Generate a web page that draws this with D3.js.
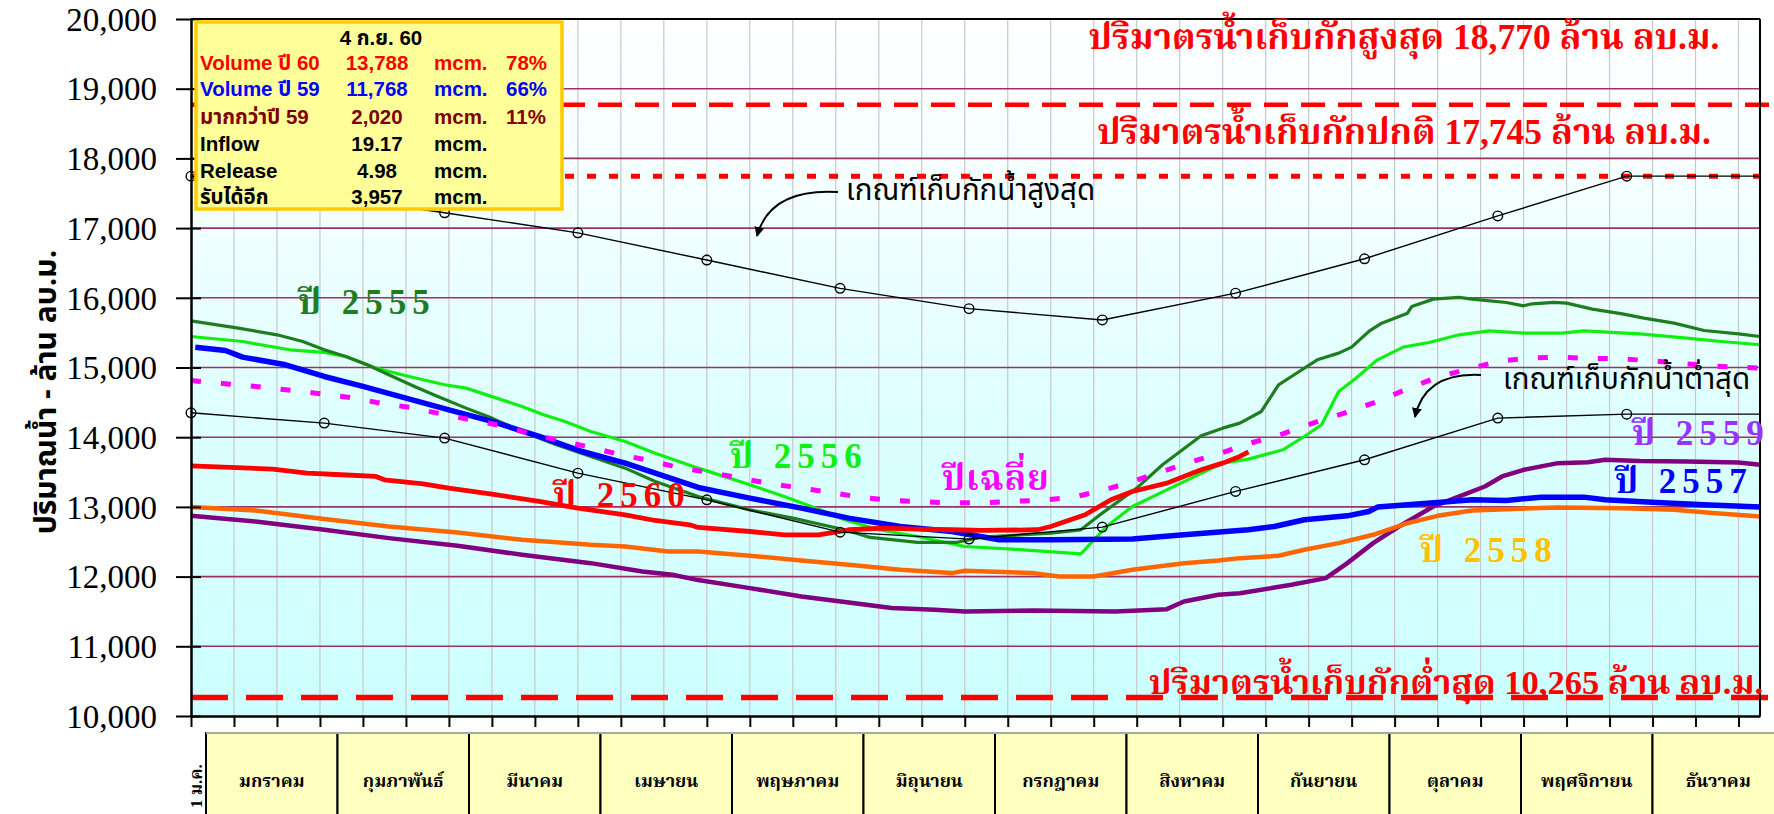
<!DOCTYPE html>
<html><head><meta charset="utf-8">
<script src="https://cdn.jsdelivr.net/npm/d3@7"></script>
<style>
html,body{margin:0;padding:0;background:#fff;overflow:hidden}
svg{display:block}
</style></head><body>
<svg id="chart" width="1774" height="814"></svg>
<script>
// ---------- data ----------
const months = ["มกราคม","กุมภาพันธ์","มีนาคม","เมษายน","พฤษภาคม","มิถุนายน","กรกฎาคม","สิงหาคม","กันยายน","ตุลาคม","พฤศจิกายน","ธันวาคม"];
const yTicks = [10000,11000,12000,13000,14000,15000,16000,17000,18000,19000,20000];

// rule curves: values on the first day of each month (day of year)
const ruleDays  = [0,31,59,90,120,151,181,212,243,273,304,334,365];
const upperRule = [17745,17470,17220,16932,16542,16136,15844,15682,16067,16560,17175,17745,17745];
const lowerRule = [14350,14202,13987,13484,13101,12638,12538,12710,13222,13676,14274,14331,14331];

// storage by year: [day of year, volume mcm]
const y2555 = [[0,15670],[11,15565],[20,15469],[26,15373],[31,15254],[36,15158],[41,15039],[46,14895],[52,14728],[57,14594],[64,14417],[70,14274],[77,14082],[85,13891],[93,13724],[101,13556],[108,13365],[118,13150],[124,13050],[130,12958],[140,12839],[152,12672],[158,12562],[169,12490],[178,12490],[184,12566],[200,12624],[207,12671],[212,12911],[220,13269],[226,13604],[235,14020],[240,14130],[244,14202],[249,14369],[253,14752],[256,14871],[262,15110],[267,15206],[270,15292],[274,15517],[277,15636],[283,15780],[284,15876],[289,15981],[295,16005],[298,15981],[306,15933],[310,15885],[312,15914],[317,15933],[320,15923],[326,15837],[333,15770],[338,15708],[345,15636],[352,15531],[360,15483],[365,15445]];
const y2556 = [[0,15445],[12,15373],[23,15254],[31,15216],[36,15158],[43,14991],[50,14881],[59,14752],[64,14704],[77,14441],[82,14321],[87,14226],[93,14082],[101,13939],[108,13771],[118,13556],[130,13317],[138,13150],[146,12968],[152,12815],[160,12672],[169,12576],[180,12432],[191,12394],[207,12327],[213,12719],[219,13006],[227,13245],[240,13628],[246,13685],[254,13819],[259,14010],[263,14178],[267,14656],[271,14847],[276,15110],[282,15292],[288,15359],[295,15469],[302,15526],[310,15493],[319,15493],[324,15526],[337,15483],[348,15421],[356,15373],[365,15326]];
const y2557 = [[1,15292],[8,15244],[12,15149],[22,15039],[31,14871],[40,14728],[50,14560],[60,14393],[70,14226],[81,14011],[91,13795],[101,13628],[108,13484],[118,13279],[130,13126],[142,12982],[153,12839],[165,12719],[177,12648],[188,12528],[200,12528],[219,12538],[231,12600],[246,12671],[252,12719],[259,12815],[269,12872],[274,12935],[276,12997],[283,13030],[290,13064],[298,13102],[306,13092],[314,13140],[324,13140],[329,13102],[341,13064],[352,13030],[365,12997]];
const y2558 = [[0,12997],[15,12949],[31,12825],[46,12719],[62,12633],[77,12528],[93,12456],[101,12432],[111,12361],[118,12361],[130,12299],[142,12232],[153,12170],[165,12098],[177,12050],[180,12083],[196,12050],[202,12002],[210,12002],[219,12098],[231,12193],[239,12232],[244,12265],[253,12299],[259,12385],[267,12480],[275,12600],[283,12767],[290,12872],[298,12949],[306,12968],[318,12992],[333,12982],[345,12958],[354,12911],[365,12863]];
const y2559 = [[0,12872],[15,12791],[31,12672],[46,12552],[62,12442],[77,12313],[93,12193],[105,12074],[112,12026],[118,11950],[130,11835],[142,11715],[153,11629],[163,11548],[173,11524],[180,11500],[196,11514],[215,11500],[227,11533],[231,11643],[239,11739],[244,11760],[256,11883],[264,11978],[269,12193],[275,12480],[281,12719],[289,13006],[294,13126],[301,13293],[305,13437],[310,13532],[318,13628],[325,13642],[329,13676],[337,13657],[348,13652],[360,13638],[365,13604]];
const y2560 = [[0,13590],[19,13542],[27,13485],[35,13461],[43,13437],[45,13389],[54,13331],[60,13269],[70,13183],[81,13078],[90,12982],[101,12887],[108,12805],[116,12743],[118,12705],[130,12647],[138,12600],[146,12600],[153,12672],[161,12695],[169,12681],[177,12672],[184,12662],[197,12672],[200,12719],[208,12887],[214,13102],[219,13221],[227,13341],[235,13532],[240,13628],[244,13724],[246,13788]];
const yAvg  = [[0,14814],[9,14761],[15,14728],[22,14680],[29,14632],[37,14570],[44,14489],[51,14427],[58,14336],[65,14250],[72,14168],[79,14049],[86,13948],[93,13853],[100,13748],[107,13661],[114,13556],[121,13490],[128,13410],[135,13331],[142,13269],[149,13207],[156,13135],[163,13092],[170,13073],[177,13059],[184,13059],[191,13078],[198,13097],[205,13135],[212,13235],[219,13365],[226,13508],[233,13652],[240,13781],[247,13924],[254,14049],[261,14202],[269,14360],[276,14512],[283,14694],[290,14862],[297,14976],[304,15087],[311,15134],[318,15149],[324,15134],[332,15125],[339,15101],[346,15063],[353,15024],[360,15005],[365,14990]];

// storage limits
const maxStorage = 18770, normalStorage = 17745, minStorage = 10265;

// summary box
const infoDate = "4 ก.ย. 60";
const infoLabels = ["Volume ปี 60","Volume ปี 59","มากกว่าปี 59","Inflow","Release","รับได้อีก"];
const infoValues = ["13,788","11,768","2,020","19.17","4.98","3,957"];
const infoUnits = ["mcm.","mcm.","mcm.","mcm.","mcm.","mcm."];
const infoPercents = ["78%","66%","11%","","",""];

// ---------- layout ----------
const svg = d3.select("#chart");
const W = 1774, H = 814;
const L = 191, R = 1760, T = 19, B = 716;
const x = d3.scaleLinear().domain([0,365]).range([L,R]);
const y = d3.scaleLinear().domain([10000,20000]).range([B,T]);

const thai = "'Noto Sans Thai','Tahoma','Loma','Garuda','Waree','Norasi','DejaVu Sans',sans-serif";
const serifThai = "'Liberation Serif','Noto Serif Thai','Norasi','Kinnari','Noto Sans Thai','Loma',serif";
const arialThai = "'Liberation Sans','Arial','Noto Sans Thai','Loma','Tahoma',sans-serif";

const defs = svg.append("defs");
const grad = defs.append("linearGradient").attr("id","bg").attr("x1",0).attr("y1",0).attr("x2",0).attr("y2",1);
grad.append("stop").attr("offset","0%").attr("stop-color","#ffffff");
grad.append("stop").attr("offset","22%").attr("stop-color","#f6ffff");
grad.append("stop").attr("offset","60%").attr("stop-color","#dcffff");
grad.append("stop").attr("offset","100%").attr("stop-color","#ccffff");
defs.append("marker").attr("id","arrow").attr("viewBox","0 0 10 10").attr("refX",9).attr("refY",5)
  .attr("markerWidth",5).attr("markerHeight",5).attr("orient","auto-start-reverse").attr("markerUnits","strokeWidth")
  .append("path").attr("d","M0,0L10,5L0,10z").attr("fill","#000");

svg.append("rect").attr("width",W).attr("height",H).attr("fill","#fff");
svg.append("rect").attr("x",L).attr("y",T).attr("width",R-L).attr("height",B-T).attr("fill","url(#bg)");

// vertical grid every 10 days
const dayTicks = d3.range(0,365,10);
svg.append("g").selectAll("line").data(dayTicks.slice(1)).join("line")
  .attr("x1",d=>x(d)).attr("x2",d=>x(d)).attr("y1",T).attr("y2",B)
  .attr("stroke","#c8c8c8").attr("stroke-width",1.2);
// horizontal grid
svg.append("g").selectAll("line").data(yTicks.slice(1,-1)).join("line")
  .attr("x1",L).attr("x2",R).attr("y1",d=>y(d)).attr("y2",d=>y(d))
  .attr("stroke","#993366").attr("stroke-width",1.6);

// storage limit lines
svg.append("line").attr("x1",L).attr("x2",W).attr("y1",y(maxStorage)).attr("y2",y(maxStorage))
  .attr("stroke","#ff0000").attr("stroke-width",4.5).attr("stroke-dasharray","24,13");
svg.append("line").attr("x1",L).attr("x2",R).attr("y1",y(normalStorage)).attr("y2",y(normalStorage))
  .attr("stroke","#ff0000").attr("stroke-width",5).attr("stroke-dasharray","9,13");
svg.append("line").attr("x1",L).attr("x2",W).attr("y1",y(minStorage)).attr("y2",y(minStorage))
  .attr("stroke","#ff0000").attr("stroke-width",5.5).attr("stroke-dasharray","37,18");

// year series
const line = d3.line().x(d=>x(d[0])).y(d=>y(d[1]));
const series = [
  {data:y2559, color:"#800080", w:4.5},
  {data:y2558, color:"#ff6600", w:4.5},
  {data:y2556, color:"#11ee11", w:3.2},
  {data:y2555, color:"#1e7d1e", w:3.2},
  {data:y2557, color:"#0000ff", w:5.5},
  {data:yAvg,  color:"#ff00ff", w:5, dash:"10,20"},
  {data:y2560, color:"#ff0000", w:4.8}
];
svg.append("g").selectAll("path").data(series).join("path")
  .attr("d",d=>line(d.data)).attr("fill","none")
  .attr("stroke",d=>d.color).attr("stroke-width",d=>d.w)
  .attr("stroke-dasharray",d=>d.dash||null).attr("stroke-linejoin","round");

// rule curves with markers
const ruleLine = d3.line().x((d,i)=>x(ruleDays[i])).y(d=>y(d));
[upperRule, lowerRule].forEach(r=>{
  svg.append("path").attr("d",ruleLine(r)).attr("fill","none").attr("stroke","#000").attr("stroke-width",1.4);
  svg.append("g").selectAll("circle").data(r.slice(0,-1)).join("circle")
    .attr("cx",(d,i)=>x(ruleDays[i])).attr("cy",d=>y(d)).attr("r",4.8)
    .attr("fill","none").attr("stroke","#000").attr("stroke-width",1.4);
});

// frame
svg.append("line").attr("x1",L).attr("x2",R).attr("y1",T).attr("y2",T).attr("stroke","#000").attr("stroke-width",2);
svg.append("line").attr("x1",R).attr("x2",R).attr("y1",T).attr("y2",B).attr("stroke","#000").attr("stroke-width",2);

// y axis
const yAxis = d3.axisLeft(y).tickValues(yTicks).tickFormat(d3.format(",")).tickSizeInner(15).tickSizeOuter(0).tickPadding(19);
const gy = svg.append("g").attr("transform",`translate(${L},0)`).call(yAxis)
  .attr("font-family","'Liberation Serif','Times New Roman',serif").attr("font-size",33);
gy.select(".domain").attr("stroke","#000").attr("stroke-width",2.5);
gy.selectAll(".tick line").attr("stroke","#000").attr("stroke-width",2).attr("x2",-15).attr("x1",10);
gy.selectAll(".tick text").style("font-family","'Liberation Serif','Times New Roman',serif")
  .style("font-size","33px").attr("fill","#000").attr("dy","0.34em");

// x axis ticks
const xAxis = d3.axisBottom(x).tickValues(dayTicks).tickFormat("").tickSizeInner(11).tickSizeOuter(0);
const gx = svg.append("g").attr("transform",`translate(0,${B})`).call(xAxis);
gx.select(".domain").attr("stroke","#000").attr("stroke-width",2.5);
gx.selectAll(".tick line").attr("stroke","#000").attr("stroke-width",2);

// month cells
const cellLeft = 206;
const band = d3.scaleBand().domain(months).range([cellLeft, cellLeft + 12*131.5]);
const cells = svg.append("g").selectAll("g").data(months).join("g");
cells.append("rect").attr("x",d=>band(d)).attr("y",733).attr("width",band.bandwidth()).attr("height",100)
  .attr("fill","#ffffc0").attr("stroke","#000").attr("stroke-width",2);
svg.append("line").attr("x1",cellLeft).attr("x2",W).attr("y1",733).attr("y2",733).attr("stroke","#a8a8a8").attr("stroke-width",2);
cells.append("text").attr("x",d=>band(d)+band.bandwidth()/2).attr("y",781).attr("dy","0.35em")
  .attr("text-anchor","middle").attr("font-family",serifThai).attr("font-weight","bold").attr("font-size",18).text(d=>d);
svg.append("text").attr("transform","translate(202,808) rotate(-90)").attr("font-family",serifThai)
  .attr("font-weight","bold").attr("font-size",17).attr("fill","#000").text("1 ม.ค.");

// y axis title
svg.append("text").attr("transform","translate(45,392) rotate(-90)").attr("text-anchor","middle").attr("dy","0.35em")
  .attr("font-family",thai).attr("font-weight","bold").attr("font-size",30).attr("fill","#000")
  .text("ปริมาณน้ำ - ล้าน ลบ.ม.");

// storage limit captions
const cap = (t,xc,yb,fs)=>svg.append("text").attr("x",xc).attr("y",yb).attr("text-anchor","middle")
  .attr("font-family",serifThai).attr("font-weight","bold").attr("font-size",fs).attr("fill","#ff0000").text(t);
cap("ปริมาตรน้ำเก็บกักสูงสุด  18,770 ล้าน ลบ.ม.",1404,49,35.5);
cap("ปริมาตรน้ำเก็บกักปกติ  17,745 ล้าน ลบ.ม.",1404,144,35.5);
cap("ปริมาตรน้ำเก็บกักต่ำสุด 10,265 ล้าน ลบ.ม.",1456,694,34.5);

// rule curve captions with arrows
const note = (t,x0,yb)=>svg.append("text").attr("x",x0).attr("y",yb).attr("font-family",thai)
  .attr("font-size",29.5).attr("fill","#000").text(t);
note("เกณฑ์เก็บกักน้ำสูงสุด",846,200);
note("เกณฑ์เก็บกักน้ำต่ำสุด",1503,389);
svg.append("path").attr("d","M838,192 Q770,188 757,236").attr("fill","none").attr("stroke","#000").attr("stroke-width",2).attr("marker-end","url(#arrow)");
svg.append("path").attr("d","M1481,375 Q1425,372 1415,417").attr("fill","none").attr("stroke","#000").attr("stroke-width",2).attr("marker-end","url(#arrow)");

// series captions
const lab = (t,x0,yb,c,sp)=>svg.append("text").attr("x",x0).attr("y",yb).attr("font-family",serifThai)
  .attr("font-weight","bold").attr("font-size",35).attr("letter-spacing",sp).attr("fill",c).text(t);
lab("ปี 2555",298,314,"#1e7d1e",6);
lab("ปี 2556",730,468,"#11ee11",6);
lab("ปี 2560",553,507,"#ff0000",6);
lab("ปีเฉลี่ย",942,490,"#ff00ff",1);
lab("ปี 2559",1632,445,"#9933ff",6);
lab("ปี 2557",1615,493,"#0000ff",6);
lab("ปี 2558",1420,562,"#ffc000",6);

// summary box
const box = svg.append("g");
box.append("rect").attr("x",196).attr("y",22).attr("width",366).attr("height",187)
  .attr("fill","#ffff99").attr("stroke","#ffcc00").attr("stroke-width",3.5);
const infoColors = ["#ff0000","#0000ff","#800000","#000","#000","#000"];
const rowY = [63,89,117,144,171,197];
box.append("text").attr("x",381).attr("y",38).attr("dy","0.35em").attr("text-anchor","middle")
  .attr("font-family",arialThai).attr("font-weight","bold").attr("font-size",20.5).text(infoDate);
infoLabels.forEach((lbl,i)=>{
  const g = box.append("g").attr("font-family",arialThai).attr("font-weight","bold").attr("font-size",20.5).attr("fill",infoColors[i]);
  g.append("text").attr("x",200).attr("y",rowY[i]).attr("dy","0.35em").text(lbl);
  g.append("text").attr("x",377).attr("y",rowY[i]).attr("dy","0.35em").attr("text-anchor","middle").text(infoValues[i]);
  g.append("text").attr("x",434).attr("y",rowY[i]).attr("dy","0.35em").text(infoUnits[i]);
  g.append("text").attr("x",506).attr("y",rowY[i]).attr("dy","0.35em").text(infoPercents[i]);
});
</script>
</body></html>
